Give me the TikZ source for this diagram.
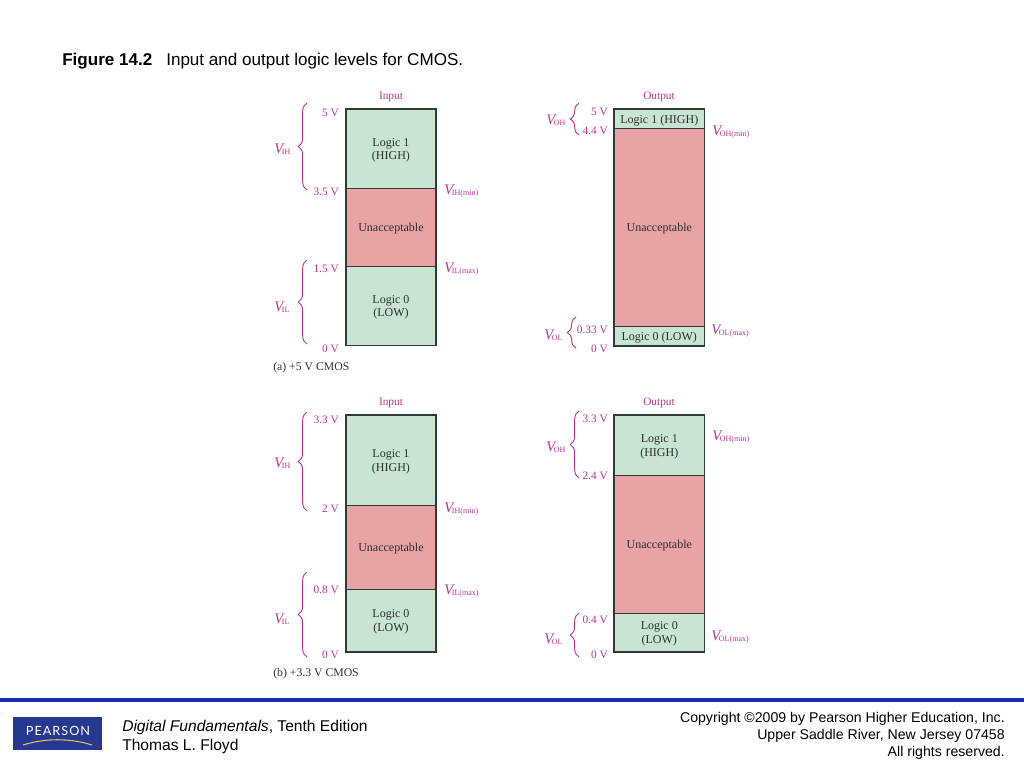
\documentclass[tikz,border=0pt]{standalone}
\usepackage{fontspec}
\setmainfont{Liberation Sans}
\newfontfamily\figfont{Liberation Serif}
\newfontfamily\logofont[LetterSpace=8]{Lato}
\usepackage{xcolor}
\usepackage{tikz}
\usetikzlibrary{decorations.pathreplacing}
\definecolor{okgreen}{HTML}{C8E4D3}
\definecolor{badred}{HTML}{EAA3A5}
\definecolor{lvlpink}{HTML}{B5388A}
\definecolor{boxdark}{HTML}{2F3B36}
\definecolor{rulenavy}{HTML}{1A2BB0}
\definecolor{logonavy}{HTML}{24398F}
\definecolor{logogold}{HTML}{E0C060}
\newcommand{\lvl}[1]{{\fontsize{11}{11}\selectfont\itshape V\kern-1pt}\textsubscript{#1}}
\tikzset{
	band/.style={draw=boxdark,line width=0.6pt,anchor=north west,minimum width=67.3pt,inner sep=0pt,align=center,text depth=0pt,font=\figfont\fontsize{9}{10}\selectfont,text=boxdark!85!black},
	okband/.style={band,fill=okgreen},
	badband/.style={band,fill=badred},
	frame/.style={draw=boxdark,line width=1.3pt},
	head/.style={inner sep=0pt,yshift=-1pt,font=\figfont\fontsize{8.5}{10}\selectfont,text=lvlpink},
	volt/.style={head,anchor=east},
	sym/.style={inner sep=0pt,font=\figfont\fontsize{8.6}{11}\selectfont,text=lvlpink,anchor=west},
	vbrace/.style={draw=lvlpink,line width=0.7pt,decorate,decoration={brace,amplitude=6.5pt}},
	capt/.style={inner sep=0pt,yshift=-1pt,font=\figfont\fontsize{8.8}{10}\selectfont,text=black!80,anchor=west},
	foot/.style={inner sep=0pt,yshift=-1pt,font=\fontsize{11.7}{13}\selectfont,text=black},
	note/.style={foot,anchor=east,font=\fontsize{10.6}{12}\selectfont}
}
\begin{document}
\begin{tikzpicture}[x=0.75pt,y=-0.75pt]
	\useasboundingbox (0,0) rectangle (1024,768);
	\fill[white] (0,0) rectangle (1024,768);
	\node[inner sep=0pt,yshift=-1pt,anchor=west,font=\bfseries\fontsize{12.8}{14}\selectfont] (figno) at (62,60) {Figure 14.2};
	\node[inner sep=0pt,yshift=-1pt,anchor=west,font=\fontsize{12.8}{14}\selectfont] (figtitle) at (166,60) {Input and output logic levels for CMOS.};

	% (a) input
	\node[okband,minimum height=59pt] (aiHigh) at (345.7,109) {Logic 1\\(HIGH)};
	\node[badband,minimum height=58.5pt] (aiBad) at (345.7,187.7) {Unacceptable};
	\node[okband,minimum height=59pt] (aiLow) at (345.7,266) {Logic 0\\(LOW)};
	\draw[frame] (aiHigh.north west) rectangle (aiLow.south east);
	\node[head] (aiHead) at (391,96) {Input};
	\node[volt] (ai5) at (339,112) {5 V};
	\node[volt] (ai35) at (339,190) {3.5 V};
	\node[volt] (ai15) at (339,268) {1.5 V};
	\node[volt] (ai0) at (339,347) {0 V};
	\node[sym] (aiVih) at (274,149) {\lvl{IH}};
	\node[sym] (aiVil) at (274,307) {\lvl{IL}};
	\node[sym] (aiVihm) at (444,191) {\lvl{IH(min)}};
	\node[sym] (aiVilm) at (444,269) {\lvl{IL(max)}};
	\coordinate (aiB1) at (307,103);
	\coordinate (aiB2) at (307,190);
	\coordinate (aiB3) at (307,260);
	\coordinate (aiB4) at (307,344);
	\draw[vbrace] (aiB2) -- (aiB1);
	\draw[vbrace] (aiB4) -- (aiB3);
	\node[capt] (acap) at (273,366) {(a) +5 V CMOS};

	% (a) output
	\node[okband,minimum height=14.25pt] (aoHigh) at (614,109) {Logic 1 (HIGH)};
	\node[badband,minimum height=148.5pt] (aoBad) at (614,128) {Unacceptable};
	\node[okband,minimum height=14.25pt] (aoLow) at (614,326) {Logic 0 (LOW)};
	\draw[frame] (aoHigh.north west) rectangle (aoLow.south east);
	\node[head] (aoHead) at (659,96) {Output};
	\node[volt] (ao5) at (608,111) {5 V};
	\node[volt] (ao44) at (608,130) {4.4 V};
	\node[volt] (ao033) at (608,328) {0.33 V};
	\node[volt] (ao0) at (608,347) {0 V};
	\node[sym] (aoVoh) at (546,120) {\lvl{OH}};
	\node[sym] (aoVol) at (544,335) {\lvl{OL}};
	\node[sym] (aoVohm) at (712,132) {\lvl{OH(min)}};
	\node[sym] (aoVolm) at (711,331) {\lvl{OL(max)}};
	\coordinate (aoB1) at (579,103);
	\coordinate (aoB2) at (579,135);
	\coordinate (aoB3) at (576,317);
	\coordinate (aoB4) at (576,348);
	\draw[vbrace] (aoB2) -- (aoB1);
	\draw[vbrace] (aoB4) -- (aoB3);

	% (b) input
	\node[okband,minimum height=67.5pt] (biHigh) at (345.7,415) {Logic 1\\(HIGH)};
	\node[badband,minimum height=63pt] (biBad) at (345.7,505) {Unacceptable};
	\node[okband,minimum height=46.5pt] (biLow) at (345.7,589) {Logic 0\\(LOW)};
	\draw[frame] (biHigh.north west) rectangle (biLow.south east);
	\node[head] (biHead) at (391,402) {Input};
	\node[volt] (bi33) at (339,418) {3.3 V};
	\node[volt] (bi2) at (339,507) {2 V};
	\node[volt] (bi08) at (339,588) {0.8 V};
	\node[volt] (bi0) at (339,653) {0 V};
	\node[sym] (biVih) at (274,463) {\lvl{IH}};
	\node[sym] (biVil) at (274,619) {\lvl{IL}};
	\node[sym] (biVihm) at (444,509) {\lvl{IH(min)}};
	\node[sym] (biVilm) at (444,591) {\lvl{IL(max)}};
	\coordinate (biB1) at (307,412);
	\coordinate (biB2) at (307,511);
	\coordinate (biB3) at (307,572);
	\coordinate (biB4) at (307,657);
	\draw[vbrace] (biB2) -- (biB1);
	\draw[vbrace] (biB4) -- (biB3);
	\node[capt] (bcap) at (273,672) {(b) +3.3 V CMOS};

	% (b) output
	\node[okband,minimum height=45pt] (boHigh) at (614,415) {Logic 1\\(HIGH)};
	\node[badband,minimum height=103.5pt] (boBad) at (614,475) {Unacceptable};
	\node[okband,minimum height=28.5pt] (boLow) at (614,613) {Logic 0\\(LOW)};
	\draw[frame] (boHigh.north west) rectangle (boLow.south east);
	\node[head] (boHead) at (659,402) {Output};
	\node[volt] (bo33) at (608,417) {3.3 V};
	\node[volt] (bo24) at (608,474) {2.4 V};
	\node[volt] (bo04) at (608,618) {0.4 V};
	\node[volt] (bo0) at (608,653) {0 V};
	\node[sym] (boVoh) at (546,447) {\lvl{OH}};
	\node[sym] (boVol) at (544,639) {\lvl{OL}};
	\node[sym] (boVohm) at (712,437) {\lvl{OH(min)}};
	\node[sym] (boVolm) at (711,637) {\lvl{OL(max)}};
	\coordinate (boB1) at (579,411);
	\coordinate (boB2) at (579,478);
	\coordinate (boB3) at (579,613);
	\coordinate (boB4) at (579,657);
	\draw[vbrace] (boB2) -- (boB1);
	\draw[vbrace] (boB4) -- (boB3);

	% footer
	\draw[rulenavy,line width=2.6pt] (0,700) -- (1024,700);
	\fill[logonavy] (13,717) rectangle (102,750);
	\node[text=white,font=\logofont\fontsize{9.5}{11}\selectfont] (logo) at (58,731) {PEARSON};
	\draw[logogold,line width=0.8pt] (23,745) .. controls (45,738) and (70,738) .. (92,745);
	\node[foot,anchor=west] (book) at (122,726) {\textit{Digital Fundamentals}, Tenth Edition};
	\node[foot,anchor=west] (writer) at (122,745.5) {Thomas L. Floyd};
	\node[note] (copy1) at (1005,717) {Copyright ©2009 by Pearson Higher Education, Inc.};
	\node[note] (copy2) at (1005,734) {Upper Saddle River, New Jersey 07458};
	\node[note] (copy3) at (1005,751) {All rights reserved.};
\end{tikzpicture}
\end{document}
